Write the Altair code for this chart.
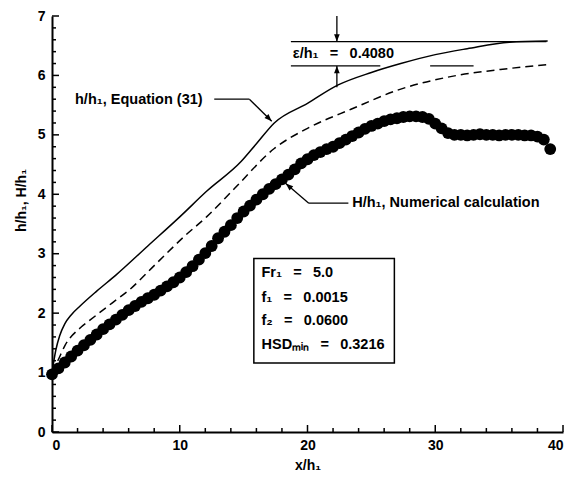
import altair as alt
import pandas as pd

# ---------------- data ----------------
eq_x = [0, 0.3, 0.6, 1.0, 1.5, 2.2, 3.5, 5.0, 7.5, 10.0, 12.1, 14.8, 16.0, 17.4, 20.0, 22.4, 25.0, 27.3, 30.0, 32.5, 35.8, 38.8]
eq_y = [1.0, 1.38, 1.62, 1.82, 1.97, 2.12, 2.37, 2.64, 3.13, 3.62, 4.05, 4.55, 4.85, 5.20, 5.53, 5.84, 6.05, 6.20, 6.35, 6.45, 6.56, 6.58]

dash_x = [0, 0.5, 1.0, 2.2, 2.9, 4.7, 6.1, 8.0, 10.4, 12.1, 14.3, 17.4, 20.0, 23.4, 27.3, 31.2, 35.1, 38.8]
dash_y = [1.0, 1.22, 1.45, 1.75, 1.87, 2.17, 2.40, 2.80, 3.30, 3.62, 4.10, 4.77, 5.11, 5.43, 5.77, 5.98, 6.10, 6.18]

num_x = [0, 0.5, 1, 1.5, 2, 2.5, 3, 3.5, 4, 4.5, 5, 5.5, 6, 6.5, 7, 7.5, 8, 8.5, 9, 9.5,
         10, 10.5, 11, 11.5, 12, 12.5, 13, 13.5, 14, 14.5, 15, 15.5, 16, 16.5, 17, 17.5, 18, 18.5, 19, 19.5,
         20, 20.5, 21, 21.5, 22, 22.5, 23, 23.5, 24, 24.5, 25, 25.5, 26, 26.5, 27, 27.5, 28, 28.5, 29, 29.5,
         30, 30.5, 31, 31.5, 32, 32.5, 33, 33.5, 34, 34.5, 35, 35.5, 36, 36.5, 37, 37.5, 38, 38.5, 39]
num_y = [0.97, 1.07, 1.17, 1.27, 1.37, 1.46, 1.55, 1.64, 1.73, 1.81, 1.89, 1.97, 2.05, 2.12, 2.19, 2.25, 2.31, 2.38, 2.45, 2.52,
         2.60, 2.69, 2.79, 2.90, 3.01, 3.13, 3.26, 3.37, 3.48, 3.60, 3.71, 3.81, 3.91, 4.00, 4.09, 4.17, 4.25, 4.33, 4.42, 4.52,
         4.59, 4.66, 4.71, 4.76, 4.80, 4.86, 4.92, 4.98, 5.04, 5.10, 5.15, 5.19, 5.23, 5.26, 5.28, 5.30, 5.31, 5.31, 5.30, 5.27,
         5.19, 5.11, 5.03, 5.00, 5.00, 4.99, 5.00, 5.01, 5.00, 5.00, 4.99, 5.00, 5.00, 5.00, 4.99, 4.99, 4.97, 4.92, 4.76]

x_major = [0, 10, 20, 30, 40]
x_minor = [2, 4, 6, 8, 12, 14, 16, 18, 22, 24, 26, 28, 32, 34, 36, 38]
y_major = [0, 1, 2, 3, 4, 5, 6, 7]
y_minor = [0.2, 0.4, 0.6, 0.8, 1.2, 1.4, 1.6, 1.8, 2.2, 2.4, 2.6, 2.8, 3.2, 3.4, 3.6, 3.8,
           4.2, 4.4, 4.6, 4.8, 5.2, 5.4, 5.6, 5.8, 6.2, 6.4, 6.6, 6.8]

box_lines = ["Fr\u2081 \u2002=\u2002 5.0", "f\u2081 \u2002=\u2002 0.0015", "f\u2082 \u2002=\u2002 0.0600",
             "HSD\u2098\u1d62\u2099 \u2002=\u2002 0.3216"]
eq_label = "h/h\u2081, Equation (31)"
num_label = "H/h\u2081, Numerical calculation"
eps_label = "\u03b5/h\u2081 \u2002=\u2002 0.4080"

# ---------------- layout constants ----------------
W, H = 511, 416
FONT = "Liberation Sans"
FS = 14
AFS = 14.5

xs = alt.Scale(domain=[0, 40], nice=False)
ys = alt.Scale(domain=[0, 7], nice=False)

df_eq = pd.DataFrame({"x": eq_x, "y": eq_y})
df_dash = pd.DataFrame({"x": dash_x, "y": dash_y})
df_num = pd.DataFrame({"x": num_x, "y": num_y})

xenc = alt.X("x:Q", scale=xs, axis=alt.Axis(
    values=x_major, ticks=False, grid=False, domainWidth=2, domainColor="black",
    labelFont=FONT, labelFontWeight="bold", labelFontSize=FS, labelColor="black", labelPadding=6,
    title="x/h\u2081", titleFont=FONT, titleFontWeight="bold", titleFontSize=FS, titleColor="black",
    titlePadding=6, format="d"))
yenc = alt.Y("y:Q", scale=ys, axis=alt.Axis(
    values=y_major, ticks=False, grid=False, domainWidth=2, domainColor="black",
    labelFont=FONT, labelFontWeight="bold", labelFontSize=FS, labelColor="black", labelPadding=7,
    title="h/h\u2081, H/h\u2081", titleFont=FONT, titleFontWeight="bold", titleFontSize=FS, titleColor="black",
    titleX=-24, titleY=184, titleAnchor="middle", format="d"))

eq_line = alt.Chart(df_eq).mark_line(color="black", strokeWidth=1.5, interpolate="monotone").encode(x=xenc, y=yenc)
dash_line = alt.Chart(df_dash).mark_line(color="black", strokeWidth=1.5, strokeDash=[8, 5],
                                         interpolate="monotone").encode(x="x:Q", y="y:Q")
dots = alt.Chart(df_num).mark_circle(color="black", size=140, opacity=1).encode(x="x:Q", y="y:Q")

# custom inward ticks
tick_x_major = alt.Chart(pd.DataFrame({"x": x_major})).mark_rule(color="black", strokeWidth=1.5).encode(
    x="x:Q", y=alt.value(H), y2=alt.value(H - 7))
tick_x_minor = alt.Chart(pd.DataFrame({"x": x_minor})).mark_rule(color="black", strokeWidth=1.5).encode(
    x="x:Q", y=alt.value(H), y2=alt.value(H - 4))
tick_y_major = alt.Chart(pd.DataFrame({"y": y_major})).mark_rule(color="black", strokeWidth=1.5).encode(
    y="y:Q", x=alt.value(0), x2=alt.value(7))
tick_y_minor = alt.Chart(pd.DataFrame({"y": y_minor})).mark_rule(color="black", strokeWidth=1.5).encode(
    y="y:Q", x=alt.value(0), x2=alt.value(4))

# annotation segments (data coordinates)
segs = pd.DataFrame({
    "x":  [18.7, 18.7, 29.6, 12.7, 15.45, 20.1, 20.1, 22.3, 22.3],
    "y":  [6.57, 6.16, 6.16, 5.60, 5.60, 3.85, 3.85, 7.0, 5.80],
    "x2": [38.7, 25.7, 33.0, 15.45, 17.2, 23.2, 18.3, 22.3, 22.3],
    "y2": [6.57, 6.16, 6.16, 5.60, 5.23, 3.85, 4.18, 6.57, 6.16],
})
seg_layer = alt.Chart(segs).mark_rule(color="black", strokeWidth=1.3).encode(
    x="x:Q", y="y:Q", x2="x2:Q", y2="y2:Q")

head_shape = "M0,0L-0.38,-1L0.38,-1Z"
heads = pd.DataFrame({"x": [22.3, 22.3, 17.2, 18.3], "y": [6.57, 6.16, 5.23, 4.18], "a": [0, 180, 315, 131]})
head_layer = alt.Chart(heads).mark_point(shape=head_shape, filled=True, color="black", size=220, opacity=1).encode(
    x="x:Q", y="y:Q", angle=alt.Angle("a:Q", scale=None))

labels = pd.DataFrame({"x": [1.8, 23.5, 18.85], "y": [5.58, 3.85, 6.36], "t": [eq_label, num_label, eps_label]})
label_layer = alt.Chart(labels).mark_text(align="left", baseline="middle", font=FONT, fontWeight="bold",
                                          fontSize=AFS, color="black").encode(x="x:Q", y="y:Q", text="t:N")

box = alt.Chart(pd.DataFrame({"x": [15.8], "x2": [26.8], "y": [1.16], "y2": [2.92]})).mark_rect(
    fill="white", stroke="black", strokeWidth=1.5).encode(x="x:Q", x2="x2:Q", y="y:Q", y2="y2:Q")
box_text = alt.Chart(pd.DataFrame({"x": [16.4] * 4, "y": [2.67, 2.26, 1.87, 1.46], "t": box_lines})).mark_text(
    align="left", baseline="middle", font=FONT, fontWeight="bold", fontSize=AFS, color="black").encode(
    x="x:Q", y="y:Q", text="t:N")

chart = alt.layer(
    eq_line, dash_line, dots, tick_x_major, tick_x_minor, tick_y_major, tick_y_minor,
    seg_layer, head_layer, label_layer, box, box_text
).properties(
    width=W, height=H, autosize="none",
    padding={"left": 44, "top": 8, "right": 4, "bottom": 40},
    background="white"
).configure_view(stroke=None)

chart.save("out.html", embed_options={"renderer": "svg", "actions": False})
